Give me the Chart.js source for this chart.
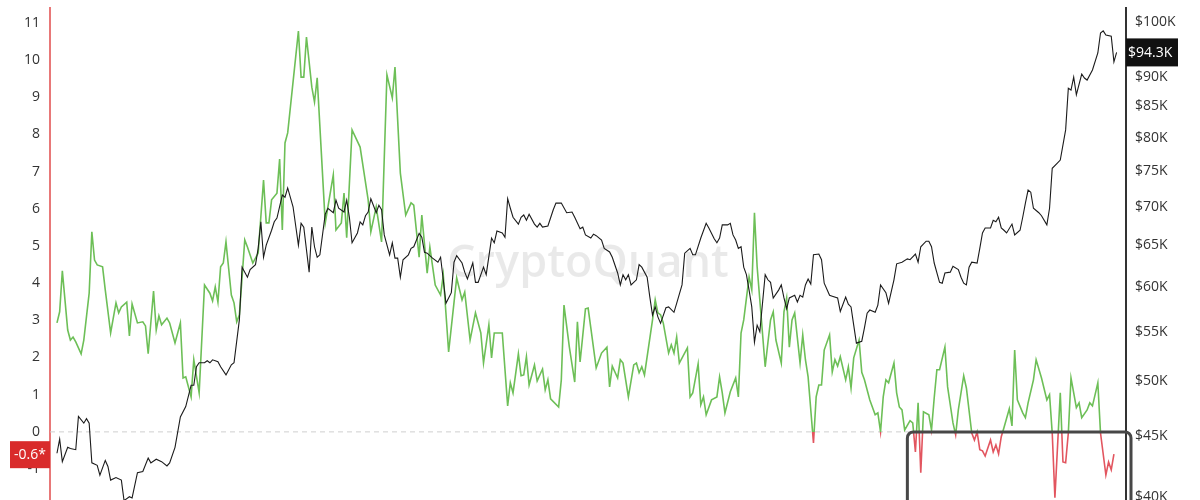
<!DOCTYPE html>
<html>
<head>
<meta charset="utf-8">
<script src="https://cdn.jsdelivr.net/npm/chart.js@4"></script>
<style>
  html, body { margin: 0; padding: 0; background: #fff; overflow: hidden; }
  #wrap { width: 1200px; height: 540px; }
</style>
</head>
<body>
<div id="wrap"><canvas id="myChart" width="1200" height="540"></canvas></div>
<script>
// [day, value] - metric (left axis)
const ratioPoints = [
  [0,2.93],[1,3.23],[2,4.33],[4,2.74],[5,2.47],[6,2.55],[7,2.42],[9,2.10],[10,2.47],[12,3.73],
  [13,5.38],[14,4.62],[15,4.49],[17,4.44],[18,3.82],[20,2.66],[22,3.47],[23,3.20],[24,3.36],[26,3.49],
  [27,2.58],[28,3.44],[30,2.93],[32,2.96],[33,2.85],[34,2.10],[36,3.79],[37,2.74],[38,3.12],[39,2.88],
  [41,3.06],[42,2.93],[44,2.39],[46,2.93],[47,1.45],[48,1.48],[50,0.94],[51,1.94],[53,1.05],[55,3.95],
  [57,3.73],[58,3.52],[59,3.90],[60,3.49],[61,4.44],[62,4.54],[63,5.11],[65,3.68],[66,3.47],[67,2.96],
  [68,3.15],[70,5.16],[71,4.97],[73,4.54],[75,4.81],[77,6.77],[78,5.62],[79,5.62],[80,6.24],[82,6.42],
  [83,7.34],[84,5.43],[85,7.77],[86,8.04],[90,10.78],[91,9.54],[92,9.54],[93,10.62],[95,9.27],[96,8.87],
  [97,9.52],[100,5.62],[103,6.91],[104,5.43],[106,5.62],[107,6.42],[108,5.22],[110,8.12],[113,7.66],[116,6.24],
  [117,5.38],[119,6.05],[121,5.11],[123,9.60],[125,8.98],[126,9.81],[128,6.96],[130,5.83],[132,6.16],[133,6.10],
  [135,4.70],[136,5.83],[138,4.27],[139,4.97],[141,3.95],[143,3.68],[144,4.22],[146,2.15],[149,4.14],[151,3.55],
  [152,3.76],[154,2.47],[156,3.20],[158,2.66],[159,1.85],[161,2.88],[162,1.99],[163,2.66],[166,2.66],[168,0.70],
  [169,1.32],[170,1.05],[172,2.10],[173,1.51],[174,1.53],[175,2.02],[176,1.26],[178,1.80],[179,1.37],[181,1.69],
  [182,1.13],[183,1.40],[184,0.89],[187,0.67],[188,1.40],[189,3.41],[191,2.28],[193,1.34],[194,2.96],[195,1.88],
  [197,3.31],[198,3.33],[199,2.80],[201,1.72],[203,2.12],[205,2.28],[206,1.21],[207,1.77],[209,1.45],[210,1.94],
  [211,1.85],[213,0.94],[215,1.80],[216,1.85],[217,1.59],[218,1.75],[219,1.53],[222,3.01],[223,3.55],[224,3.20],
  [225,3.15],[226,2.93],[228,2.12],[229,2.34],[230,2.12],[231,2.55],[232,1.85],[235,2.26],[236,0.94],[237,1.05],
  [239,1.83],[240,0.73],[241,0.94],[242,0.46],[244,0.86],[246,0.94],[247,1.48],[248,1.05],[249,0.51],[251,1.08],
  [253,1.45],[254,0.94],[255,2.66],[256,3.01],[258,4.17],[259,3.82],[260,5.89],[261,4.44],[262,3.55],[264,1.75],
  [265,2.39],[266,3.01],[267,3.23],[268,2.47],[270,1.85],[271,3.23],[272,3.60],[273,2.28],[274,3.01],[275,3.20],
  [277,1.85],[278,2.61],[279,1.94],[280,1.48],[282,-0.30],[283,0.94],[284,1.26],[285,1.26],[286,2.20],[288,2.61],
  [289,1.61],[290,1.94],[291,1.77],[292,2.02],[294,1.40],[295,1.75],[296,1.18],[297,1.99],[299,2.47],[300,1.60],
  [301,1.40],[303,0.86],[305,0.46],[306,0.51],[307,0.00],[308,0.94],[309,1.40],[310,1.32],[312,1.85],[313,1.05],
  [314,0.67],[315,0.59],[316,0.05],[318,0.30],[319,0.24],[320,-0.54],[321,0.78],[322,-1.10],[323,0.54],[325,0.46],
  [326,0.05],[327,0.91],[328,1.67],[329,1.67],[331,2.28],[332,1.21],[334,0.24],[335,-0.08],[336,0.59],[338,1.51],
  [339,1.18],[341,-0.03],[342,-0.22],[343,0.00],[344,-0.48],[345,-0.51],[346,-0.65],[348,-0.22],[349,-0.54],[350,-0.35],
  [351,-0.59],[352,-0.13],[353,0.11],[355,0.62],[356,0.16],[357,2.20],[358,0.86],[360,0.51],[361,0.38],[362,0.78],
  [364,1.40],[365,1.94],[367,1.45],[369,0.86],[370,1.00],[371,-0.03],[372,-1.77],[374,1.05],[375,-0.81],[376,-0.83],
  [377,-0.03],[378,1.45],[380,0.65],[381,0.78],[382,0.38],[384,0.59],[385,0.78],[386,0.70],[388,1.32],[389,-0.03],
  [391,-1.16],[392,-0.81],[393,-1.02],[394,-0.60]
];

// [day, BTC price in $K] (right axis)
const pricePoints = [
  [0,43.5],[1,44.7],[2,42.8],[4,44.0],[5,43.9],[7,43.8],[8,46.7],[10,46.1],[11,46.5],[12,46.1],
  [13,42.7],[15,42.5],[16,41.7],[18,42.9],[19,42.4],[20,41.3],[22,41.5],[24,41.3],[25,39.7],[27,40.0],
  [28,39.9],[30,41.9],[32,42.0],[34,43.1],[35,42.7],[37,43.0],[39,42.8],[41,42.45],[42,42.7],[44,44.0],
  [46,46.65],[48,47.6],[50,49.6],[51,49.6],[52,51.4],[53,51.8],[55,51.8],[56,52.0],[57,51.8],[58,52.1],
  [60,51.9],[61,51.4],[63,50.6],[65,51.6],[66,51.8],[68,56.3],[69,62.3],[71,61.1],[72,62.0],[74,62.6],
  [75,64.6],[76,68.0],[77,63.5],[78,65.0],[80,66.9],[81,68.0],[82,68.5],[84,71.6],[85,71.3],[86,72.6],
  [88,70.0],[90,65.0],[91,67.8],[92,67.3],[94,61.7],[95,67.3],[96,64.8],[97,63.5],[98,63.8],[100,69.0],
  [101,69.8],[103,69.2],[104,70.9],[105,69.8],[107,69.3],[108,70.9],[109,68.6],[110,65.3],[112,66.55],[113,68.0],
  [114,67.6],[115,68.8],[116,69.3],[117,71.1],[119,69.2],[120,70.2],[121,69.6],[122,66.3],[124,63.8],[125,65.3],
  [126,63.4],[127,63.4],[128,61.1],[129,63.2],[131,63.8],[132,64.6],[133,64.8],[135,66.5],[136,66.0],[137,64.1],
  [138,64.0],[140,63.4],[142,62.9],[143,63.5],[144,60.8],[145,58.1],[147,59.3],[148,62.9],[149,63.7],[151,62.8],
  [152,61.7],[153,60.9],[155,62.8],[156,60.5],[157,60.5],[159,62.3],[160,61.4],[162,65.9],[163,65.3],[164,66.8],
  [166,66.55],[167,66.0],[168,71.1],[169,69.8],[170,68.6],[172,67.7],[173,68.6],[174,68.9],[175,68.2],[176,69.0],
  [178,67.7],[179,67.3],[180,67.8],[181,67.3],[183,67.45],[185,69.6],[186,70.5],[188,70.5],[190,69.2],[192,69.3],
  [193,68.6],[195,67.1],[196,67.3],[197,66.3],[199,65.9],[200,66.4],[201,66.2],[203,65.65],[204,64.6],[206,64.15],
  [207,63.5],[209,61.6],[210,60.2],[211,61.4],[212,60.8],[213,61.4],[214,60.2],[216,60.8],[217,62.6],[218,62.3],
  [220,61.1],[221,58.8],[222,56.8],[223,57.7],[224,56.6],[225,55.9],[227,57.6],[228,57.7],[230,57.1],[231,58.1],
  [233,60.2],[234,64.0],[236,64.6],[237,63.8],[238,63.8],[240,65.9],[242,67.8],[243,67.2],[245,65.8],[246,65.3],
  [247,65.9],[248,67.6],[250,67.6],[251,67.8],[252,66.3],[253,65.65],[254,64.6],[255,64.8],[256,62.3],[257,61.4],
  [258,59.6],[259,57.7],[260,53.9],[261,55.7],[262,55.0],[264,61.4],[265,60.8],[266,60.5],[267,58.7],[269,59.6],
  [270,60.2],[271,58.7],[272,57.5],[273,58.7],[275,59.0],[276,58.25],[277,59.0],[278,58.8],[279,60.2],[280,60.9],
  [281,60.3],[282,63.8],[284,63.9],[285,63.2],[286,60.4],[288,59.0],[289,58.9],[291,58.7],[292,57.2],[294,58.8],
  [295,58.0],[296,57.7],[297,55.7],[298,53.8],[300,54.0],[301,55.4],[302,57.0],[303,57.35],[305,57.1],[306,57.9],
  [307,60.2],[309,59.3],[310,58.1],[312,60.8],[313,62.7],[315,62.9],[317,63.3],[318,63.2],[320,63.9],[321,62.9],
  [322,64.8],[324,65.5],[325,65.5],[326,64.8],[327,62.8],[329,60.5],[330,60.4],[331,61.6],[333,61.7],[334,62.4],
  [336,62.0],[337,61.1],[338,60.4],[339,60.2],[340,62.3],[341,62.9],[343,62.8],[344,64.6],[345,66.55],[346,67.2],
  [348,67.2],[349,68.2],[350,68.0],[351,68.6],[352,67.2],[353,66.9],[354,66.55],[356,67.7],[357,66.3],[359,66.9],
  [360,68.6],[361,70.5],[362,72.3],[363,72.0],[364,69.8],[366,69.2],[367,68.8],[369,67.6],[370,69.8],[371,75.4],
  [373,76.2],[374,76.6],[376,81.2],[377,88.0],[378,87.7],[379,89.9],[380,86.9],[382,90.45],[383,89.75],[384,89.4],
  [386,91.15],[388,94.2],[389,97.9],[390,98.3],[391,97.5],[393,97.3],[394,92.6],[395,94.3]
];

const leftTicks = [-2, -1, 0, 1, 2, 3, 4, 5, 6, 7, 8, 9, 10, 11];
const priceTicks = [40, 45, 50, 55, 60, 65, 70, 75, 80, 85, 90, 95, 100];
const boxFromDay = 317; // highlighted stretch starts here

const GREEN = "#6dbf57";
const RED = "#e2555f";
const FONT = '"Open Sans", "Noto Sans", sans-serif';

// watermark + dashed zero line, under the lines
const backdrop = {
  id: "backdrop",
  beforeDatasetsDraw(chart) {
    const { ctx, chartArea, scales } = chart;
    ctx.save();
    ctx.font = "600 45px " + FONT;
    ctx.fillStyle = "rgba(0,0,0,0.085)";
    ctx.textAlign = "center";
    ctx.textBaseline = "middle";
    ctx.fillText("CryptoQuant", (chartArea.left + chartArea.right) / 2, (chartArea.top + chartArea.bottom) / 2);

    const y0 = scales.y.getPixelForValue(0);
    ctx.strokeStyle = "#cfcfcf";
    ctx.lineWidth = 1;
    ctx.setLineDash([5, 4]);
    ctx.beginPath();
    ctx.moveTo(chartArea.left, y0);
    ctx.lineTo(chartArea.right, y0);
    ctx.stroke();
    ctx.restore();
  }
};

// rounded box over the negative stretch + value badges
const overlay = {
  id: "overlay",
  afterDatasetsDraw(chart) {
    const { ctx, chartArea, scales } = chart;
    const x0 = scales.x.getPixelForValue(boxFromDay);
    const y0 = scales.y.getPixelForValue(0);
    ctx.save();
    ctx.strokeStyle = "#474747";
    ctx.lineWidth = 3;
    ctx.beginPath();
    ctx.roundRect(x0, y0, chartArea.right + 5 - x0, chartArea.bottom + 30 - y0, 6);
    ctx.stroke();
    ctx.restore();
  },
  afterDraw(chart) {
    const { ctx, chartArea, scales } = chart;
    const lastRatio = ratioPoints[ratioPoints.length - 1][1];
    const lastPrice = pricePoints[pricePoints.length - 1][1];
    ctx.save();
    ctx.font = "14px " + FONT;
    ctx.textBaseline = "middle";

    let y = scales.y.getPixelForValue(lastRatio);
    ctx.fillStyle = "#d92b2b";
    ctx.fillRect(10, y - 13, chartArea.left - 10, 27);
    ctx.fillStyle = "#fff";
    ctx.textAlign = "center";
    ctx.fillText(lastRatio.toFixed(1) + "*", (10 + chartArea.left) / 2, y + 1);

    y = scales.y1.getPixelForValue(lastPrice);
    ctx.fillStyle = "#111";
    ctx.fillRect(chartArea.right, y - 14, 52, 28);
    ctx.fillStyle = "#fff";
    ctx.textAlign = "left";
    ctx.fillText("$" + lastPrice.toFixed(1) + "K", chartArea.right + 2, y + 1);
    ctx.restore();
  }
};

function splitColor(context) {
  const chart = context.chart;
  const area = chart.chartArea;
  if (!area) return GREEN;
  const y0 = chart.scales.y.getPixelForValue(0);
  const f = Math.min(1, Math.max(0, (y0 - area.top) / (area.bottom - area.top)));
  const g = chart.ctx.createLinearGradient(0, area.top, 0, area.bottom);
  g.addColorStop(0, GREEN);
  g.addColorStop(f, GREEN);
  g.addColorStop(f, RED);
  g.addColorStop(1, RED);
  return g;
}

function fitAxis(width) {
  return s => {
    s.width = width;
    s.paddingTop = 0;
    s.paddingBottom = 0;
  };
}

const ctx = document.getElementById("myChart").getContext("2d");
const myChart = new Chart(ctx, {
  type: "line",
  data: {
    datasets: [
      {
        label: "BTC Price",
        data: pricePoints.map(p => ({ x: p[0], y: p[1] })),
        yAxisID: "y1",
        borderColor: "#1b1b1b",
        borderWidth: 1.1,
        pointRadius: 0,
        tension: 0
      },
      {
        label: "Metric",
        data: ratioPoints.map(p => ({ x: p[0], y: p[1] })),
        yAxisID: "y",
        borderColor: splitColor,
        borderWidth: 1.6,
        pointRadius: 0,
        tension: 0
      }
    ]
  },
  options: {
    responsive: false,
    animation: false,
    layout: { padding: { top: 8, bottom: 20, left: 0, right: 0 } },
    plugins: { legend: { display: false }, tooltip: { enabled: false } },
    scales: {
      x: { type: "linear", display: false, min: -2.6, max: 398.5 },
      y: {
        type: "linear",
        position: "left",
        min: -2.37,
        max: 11.4,
        afterBuildTicks: s => { s.ticks = leftTicks.map(v => ({ value: v })); },
        afterFit: fitAxis(50),
        grid: { display: false, drawTicks: false },
        border: { display: true, color: "#e87878", width: 2 },
        ticks: { padding: 10, color: "#333", autoSkip: false, font: { family: FONT, size: 14 } }
      },
      y1: {
        type: "logarithmic",
        position: "right",
        min: 38.24,
        max: 102.74,
        afterBuildTicks: s => { s.ticks = priceTicks.map(v => ({ value: v })); },
        afterFit: fitAxis(74),
        grid: { display: false, drawTicks: false },
        border: { display: true, color: "#333", width: 2 },
        ticks: {
          padding: 9,
          color: "#333",
          autoSkip: false,
          font: { family: FONT, size: 14 },
          callback: v => "$" + v + "K"
        }
      }
    }
  },
  plugins: [backdrop, overlay]
});
</script>
</body>
</html>
